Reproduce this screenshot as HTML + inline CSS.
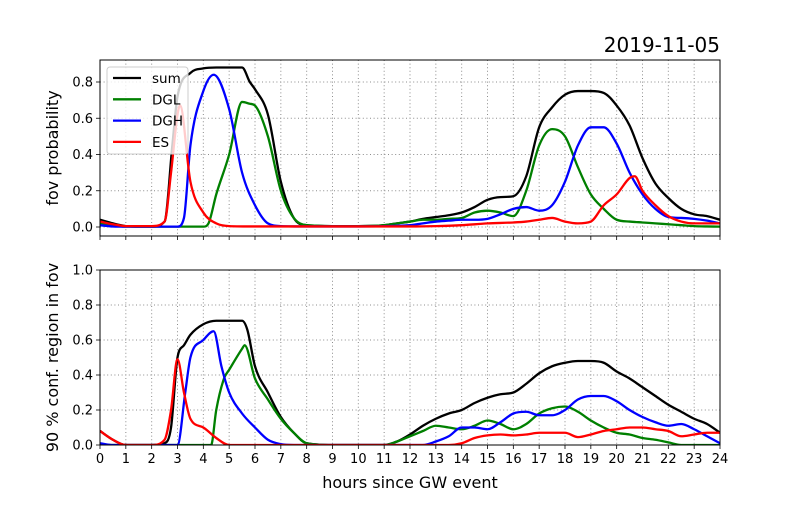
<!DOCTYPE html>
<html><head><meta charset="utf-8"><style>
body{margin:0;background:#fff}
svg text{font-family:"DejaVu Sans","Liberation Sans",sans-serif;fill:#000}
</style></head><body>
<svg id="c" width="800" height="500" xmlns="http://www.w3.org/2000/svg"></svg>
<script>
const hourTicks=[0,1,2,3,4,5,6,7,8,9,10,11,12,13,14,15,16,17,18,19,20,21,22,23,24];
const topTicks=[0,0.2,0.4,0.6,0.8];
const botTicks=[0,0.2,0.4,0.6,0.8,1.0];
const seriesNames=["sum","DGL","DGH","ES"];
const seriesColors=["#000000","#008000","#0000ff","#ff0000"];
// top panel (fov probability)
const topSumX=[0,0.5,1,1.5,2,2.5,2.8,3,3.5,4,4.5,5,5.5,5.8,6,6.5,7,7.5,8,9,10,11,11.5,12,12.5,13,13.5,14,14.5,15,15.5,16,16.5,17,17.5,18,18.5,19,19.5,20,20.5,21,21.5,22,22.5,23,23.5,24];
const topSumY=[0.04,0.02,0.005,0.002,0.002,0.03,0.45,0.72,0.85,0.875,0.88,0.88,0.88,0.8,0.76,0.62,0.25,0.05,0.01,0.005,0.005,0.01,0.02,0.03,0.045,0.055,0.065,0.08,0.11,0.15,0.165,0.17,0.28,0.55,0.66,0.73,0.75,0.75,0.74,0.67,0.56,0.38,0.24,0.16,0.1,0.07,0.06,0.04];
const topDGLX=[0,0.5,1,2,3,4,4.2,4.5,5,5.5,5.8,6,6.5,7,7.5,8,9,10,11,11.5,12,12.5,13,13.5,14,14.5,15,15.5,16,16.5,17,17.5,18,18.5,19,19.5,20,20.5,21,21.5,22,22.5,23,23.5,24];
const topDGLY=[0.02,0.01,0.002,0.002,0.002,0.002,0.02,0.18,0.4,0.69,0.68,0.67,0.5,0.2,0.05,0.01,0.005,0.005,0.01,0.02,0.03,0.04,0.04,0.045,0.05,0.08,0.09,0.08,0.06,0.2,0.45,0.54,0.5,0.33,0.18,0.1,0.04,0.03,0.025,0.02,0.015,0.01,0.005,0.003,0.002];
const topDGHX=[0,0.5,1,2,3,3.25,3.5,4,4.4,5,5.5,6,6.5,7,8,10,12,12.5,13,13.5,14,14.5,15,15.5,16,16.5,17,17.5,18,18.5,19,19.5,20,20.5,21,21.5,22,22.5,23,23.5,24];
const topDGHY=[0.01,0.003,0.002,0.002,0.002,0.05,0.45,0.75,0.84,0.65,0.3,0.12,0.02,0.005,0.003,0.003,0.01,0.02,0.03,0.035,0.04,0.04,0.045,0.07,0.1,0.11,0.09,0.12,0.25,0.45,0.55,0.55,0.46,0.3,0.18,0.1,0.055,0.05,0.045,0.035,0.02];
const topESX=[0,0.5,1,2,2.5,2.75,3,3.1,3.5,4,4.5,5,6,8,10,12,13,14,15,16,16.5,17,17.5,18,18.5,19,19.5,20,20.5,20.7,21,21.5,22,22.5,23,24];
const topESY=[0.03,0.015,0.005,0.005,0.03,0.3,0.62,0.67,0.25,0.08,0.02,0.005,0.003,0.003,0.003,0.003,0.005,0.01,0.02,0.025,0.03,0.04,0.05,0.03,0.02,0.03,0.12,0.18,0.27,0.28,0.2,0.12,0.06,0.03,0.02,0.02];
// bottom panel (90% conf region)
const botSumX=[0,0.5,1,2,2.5,2.75,3,3.25,3.5,4,4.5,5,5.5,5.7,6,6.5,7,7.5,8,9,10,11,11.5,12,12.5,13,13.5,14,14.5,15,15.5,16,16.5,17,17.5,18,18.5,19,19.5,20,20.5,21,21.5,22,22.5,23,23.5,24];
const botSumY=[0.08,0.03,0,0,0.01,0.1,0.5,0.57,0.63,0.69,0.71,0.71,0.71,0.66,0.45,0.3,0.16,0.07,0.01,0,0,0,0.02,0.06,0.11,0.15,0.18,0.2,0.24,0.27,0.29,0.3,0.35,0.41,0.45,0.47,0.48,0.48,0.47,0.42,0.38,0.33,0.28,0.23,0.19,0.15,0.12,0.07];
const botDGLX=[0,1,2,3,4,4.3,4.5,4.8,5,5.5,5.6,6,6.5,7,7.5,8,9,10,11,11.5,12,12.5,13,13.5,14,14.5,15,15.5,16,16.5,17,17.5,18,18.5,19,19.5,20,20.5,21,21.5,22,22.5,24];
const botDGLY=[0,0,0,0,0,0,0.2,0.38,0.43,0.55,0.57,0.38,0.26,0.15,0.07,0.01,0,0,0,0.02,0.05,0.08,0.11,0.1,0.09,0.11,0.14,0.12,0.09,0.12,0.18,0.21,0.22,0.19,0.14,0.1,0.07,0.06,0.04,0.03,0.015,0,0];
const botDGHX=[0,0.5,1,2,3,3.3,3.5,4,4.4,4.7,5,5.5,6,6.5,7,7.5,10,12.5,13,13.5,14,14.5,15,15.5,16,16.5,17,17.5,18,18.5,19,19.5,20,20.5,21,21.5,22,22.5,23,23.5,24];
const botDGHY=[0.01,0,0,0,0,0.3,0.5,0.6,0.65,0.45,0.3,0.18,0.1,0.03,0.005,0,0,0,0.02,0.05,0.1,0.1,0.09,0.13,0.18,0.19,0.17,0.17,0.2,0.26,0.28,0.28,0.25,0.2,0.16,0.13,0.11,0.12,0.09,0.05,0.01];
const botESX=[0,0.5,1,2,2.5,2.75,3,3.25,3.5,4,4.5,5,8,12,13.5,14,14.5,15,15.5,16,16.5,17,17.5,18,18.5,19,19.5,20,20.5,21,21.5,22,22.5,23,23.5,24];
const botESY=[0.08,0.03,0,0,0.03,0.2,0.49,0.3,0.15,0.1,0.04,0,0,0,0,0.01,0.04,0.055,0.06,0.055,0.06,0.07,0.07,0.07,0.045,0.06,0.08,0.09,0.1,0.1,0.09,0.08,0.05,0.06,0.07,0.07];

const svg=document.getElementById('c');
const NS='http://www.w3.org/2000/svg';
function mk(tag,attrs,parent){const e=document.createElementNS(NS,tag);for(const k in attrs)e.setAttribute(k,attrs[k]);(parent||svg).appendChild(e);return e;}
const X0=100,X1=720;
function xs(h){return X0+(h/24)*(X1-X0);}
const panels=[
 {top:60,bot:236,y:v=>227-v*181.25,ticks:topTicks,fmt:v=>v.toFixed(1),label:"fov probability",xl:false,
  data:[[topSumX,topSumY],[topDGLX,topDGLY],[topDGHX,topDGHY],[topESX,topESY]],name:'top'},
 {top:270,bot:445,y:v=>445-v*175,ticks:botTicks,fmt:v=>v.toFixed(1),label:"90 % conf. region in fov",xl:true,
  data:[[botSumX,botSumY],[botDGLX,botDGLY],[botDGHX,botDGHY],[botESX,botESY]],name:'bottom'}
];
function monoPath(X,Y,ys){
 const n=X.length,d=[],m=[];
 for(let i=0;i<n-1;i++)d.push((Y[i+1]-Y[i])/(X[i+1]-X[i]));
 for(let i=0;i<n;i++){
  if(i==0)m.push(d[0]);else if(i==n-1)m.push(d[n-2]);
  else m.push(d[i-1]*d[i]<=0?0:(d[i-1]+d[i])/2);
 }
 for(let i=0;i<n-1;i++){if(d[i]==0){m[i]=0;m[i+1]=0;continue;}
  const a=m[i]/d[i],b=m[i+1]/d[i],s=a*a+b*b;if(s>9){const t=3/Math.sqrt(s);m[i]=t*a*d[i];m[i+1]=t*b*d[i];}}
 let p='M'+xs(X[0]).toFixed(2)+','+ys(Y[0]).toFixed(2);
 for(let i=0;i<n-1;i++){const h=X[i+1]-X[i];
  p+=' C'+xs(X[i]+h/3).toFixed(2)+','+ys(Y[i]+m[i]*h/3).toFixed(2)+' '+xs(X[i+1]-h/3).toFixed(2)+','+ys(Y[i+1]-m[i+1]*h/3).toFixed(2)+' '+xs(X[i+1]).toFixed(2)+','+ys(Y[i+1]).toFixed(2);}
 return p;
}
panels.forEach(P=>{
 const g=mk('g',{});
 
 
 mk('defs',{},g).innerHTML='<clipPath id="clip-'+P.name+'"><rect x="'+X0+'" y="'+P.top+'" width="'+(X1-X0)+'" height="'+(P.bot-P.top)+'"/></clipPath>';
 hourTicks.forEach(h=>{
  const l=mk('line',{x1:xs(h),x2:xs(h),y1:P.top,y2:P.bot,stroke:'#8c8c8c','stroke-dasharray':'1,2.6','stroke-width':1},g);
  
  
  mk('line',{x1:xs(h),x2:xs(h),y1:P.bot,y2:P.bot+4,stroke:'#000','stroke-width':0.8},g);
  if(P.xl){const t=mk('text',{x:xs(h),y:P.bot+18,'font-size':13,'text-anchor':'middle'},g);t.textContent=h;
   
   }
 });
 P.ticks.forEach(v=>{
  const l=mk('line',{x1:X0,x2:X1,y1:P.y(v),y2:P.y(v),stroke:'#8c8c8c','stroke-dasharray':'1,2.6','stroke-width':1},g);
  
  
  mk('line',{x1:X0-4,x2:X0,y1:P.y(v),y2:P.y(v),stroke:'#000','stroke-width':0.8},g);
  const t=mk('text',{x:X0-7,y:P.y(v)+4.5,'font-size':13,'text-anchor':'end'},g);t.textContent=P.fmt(v);
  
  
 });
 const lg=mk('g',{'clip-path':'url(#clip-'+P.name+')'},g);
 P.data.forEach((s,i)=>{
  const p=mk('path',{d:monoPath(s[0],s[1],P.y),fill:'none',stroke:seriesColors[i],'stroke-width':2.3,'stroke-linejoin':'round'},lg);
  
  
 });
 mk('rect',{x:X0,y:P.top,width:X1-X0,height:P.bot-P.top,fill:'none',stroke:'#000','stroke-width':1},g);
 const yl=mk('text',{x:0,y:0,'font-size':16,'text-anchor':'middle',transform:'translate(58,'+((P.top+P.bot)/2)+') rotate(-90)'},g);
 yl.textContent=P.label;
 
 
});
// legend
const lg=mk('g',{});


mk('rect',{x:107,y:67,width:81,height:87,rx:3,fill:'#fff','fill-opacity':0.8,stroke:'#ccc'},lg);
seriesNames.forEach((n,i)=>{
 const y=78+i*21.3;
 const e=mk('g',{},lg);
 
 
 mk('line',{x1:113,x2:141,y1:y,y2:y,stroke:seriesColors[i],'stroke-width':2.3},e);
 const t=mk('text',{x:152,y:y+5,'font-size':13.5},e);t.textContent=n;
});
const title=mk('text',{x:720,y:52,'font-size':20,'text-anchor':'end'});
title.textContent='2019-11-05';


const xt=mk('text',{x:410,y:488,'font-size':16,'text-anchor':'middle'});
xt.textContent='hours since GW event';


</script>
</body></html>
